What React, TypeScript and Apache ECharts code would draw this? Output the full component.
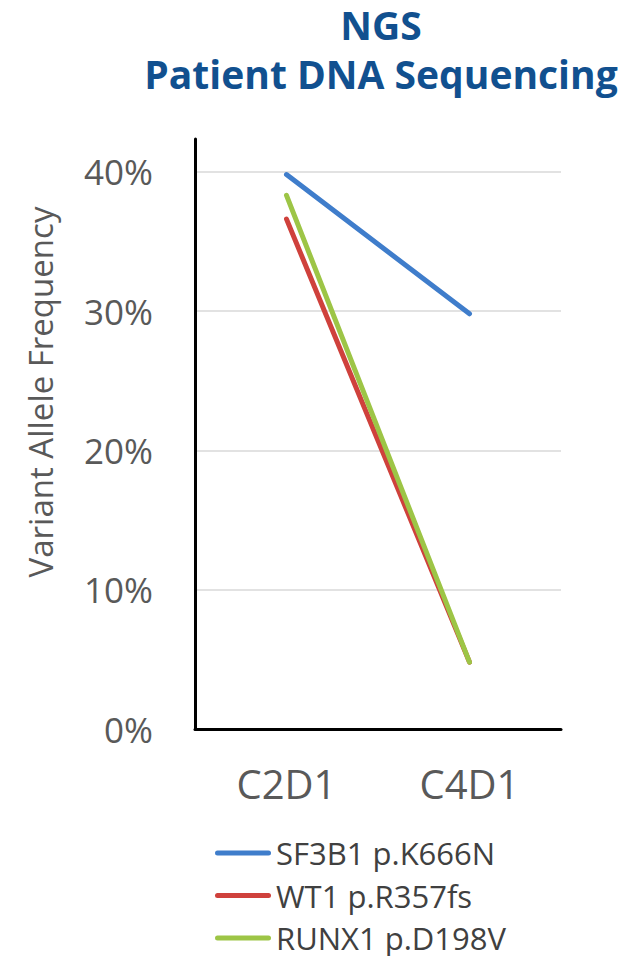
import React, { useEffect, useRef } from "react";
import * as echarts from "echarts";

// Sampling time points
const cycles = ["C2D1", "C4D1"];

// Variant allele frequency per mutation (fraction)
const sf3b1 = [0.398, 0.298];
const wt1 = [0.366, 0.048];
const runx1 = [0.383, 0.048];

const seriesNames = ["SF3B1 p.K666N", "WT1 p.R357fs", "RUNX1 p.D198V"];
const seriesColors = ["#3F7DCB", "#CF413C", "#9DC546"];

const titleText = "NGS\nPatient DNA Sequencing";
const yAxisTitle = "Variant Allele Frequency";

const FONT = "'Open Sans', 'Noto Sans', sans-serif";

// Capsule-shaped legend swatch (a thick line with round ends)
const LEGEND_ICON =
  "path://M2.5,0 H53.5 A2.5,2.5 0 0 1 53.5,5 H2.5 A2.5,2.5 0 0 1 2.5,0 Z";

export default function App() {
  const ref = useRef<HTMLDivElement>(null);

  useEffect(() => {
    if (!ref.current) return;
    const chart = echarts.init(ref.current, undefined, { renderer: "svg" });
    const values = [sf3b1, wt1, runx1];

    chart.setOption({
      animation: false,
      backgroundColor: "#ffffff",
      title: {
        text: titleText,
        left: 381,
        top: 0,
        padding: 0,
        textAlign: "center",
        textStyle: {
          fontFamily: FONT,
          fontSize: 39,
          fontWeight: "bold",
          color: "#11508F",
          lineHeight: 49,
        },
      },
      grid: { left: 195, right: 62, top: 139, bottom: 227, containLabel: false },
      legend: {
        orient: "vertical",
        left: 215,
        top: 837,
        height: 118,
        padding: 0,
        itemWidth: 56,
        itemHeight: 5,
        itemGap: 10.5,
        icon: LEGEND_ICON,
        data: seriesNames,
        textStyle: {
          fontFamily: FONT,
          fontSize: 31,
          lineHeight: 32,
          color: "#404040",
        },
      },
      xAxis: {
        type: "category",
        data: cycles,
        boundaryGap: true,
        axisLine: { show: true, lineStyle: { color: "#000000", width: 3 } },
        axisTick: { show: false },
        axisLabel: {
          margin: 34,
          fontFamily: FONT,
          fontSize: 40,
          color: "#595959",
        },
        splitLine: { show: false },
      },
      yAxis: {
        type: "value",
        min: 0,
        max: 0.4235,
        interval: 0.1,
        name: yAxisTitle,
        nameLocation: "middle",
        nameGap: 138,
        nameTextStyle: {
          fontFamily: FONT,
          fontSize: 33,
          color: "#595959",
          padding: [0, 0, 0, 84],
        },
        axisLine: { show: true, lineStyle: { color: "#000000", width: 3 } },
        axisTick: { show: false },
        axisLabel: {
          margin: 42,
          fontFamily: FONT,
          fontSize: 35,
          color: "#595959",
          showMaxLabel: false,
          formatter: (v: number) => `${Math.round(v * 100)}%`,
        },
        splitLine: {
          show: true,
          showMaxLine: false,
          lineStyle: { color: "#D9D9D9", width: 1.5 },
        },
      },
      series: seriesNames.map((name, i) => ({
        name,
        type: "line",
        data: values[i],
        symbol: "none",
        color: seriesColors[i],
        lineStyle: { width: 5, color: seriesColors[i], cap: "round" },
      })),
    });

    return () => chart.dispose();
  }, []);

  return (
    <div
      ref={ref}
      style={{ position: "fixed", left: 0, top: 0, width: 623, height: 956 }}
    />
  );
}
